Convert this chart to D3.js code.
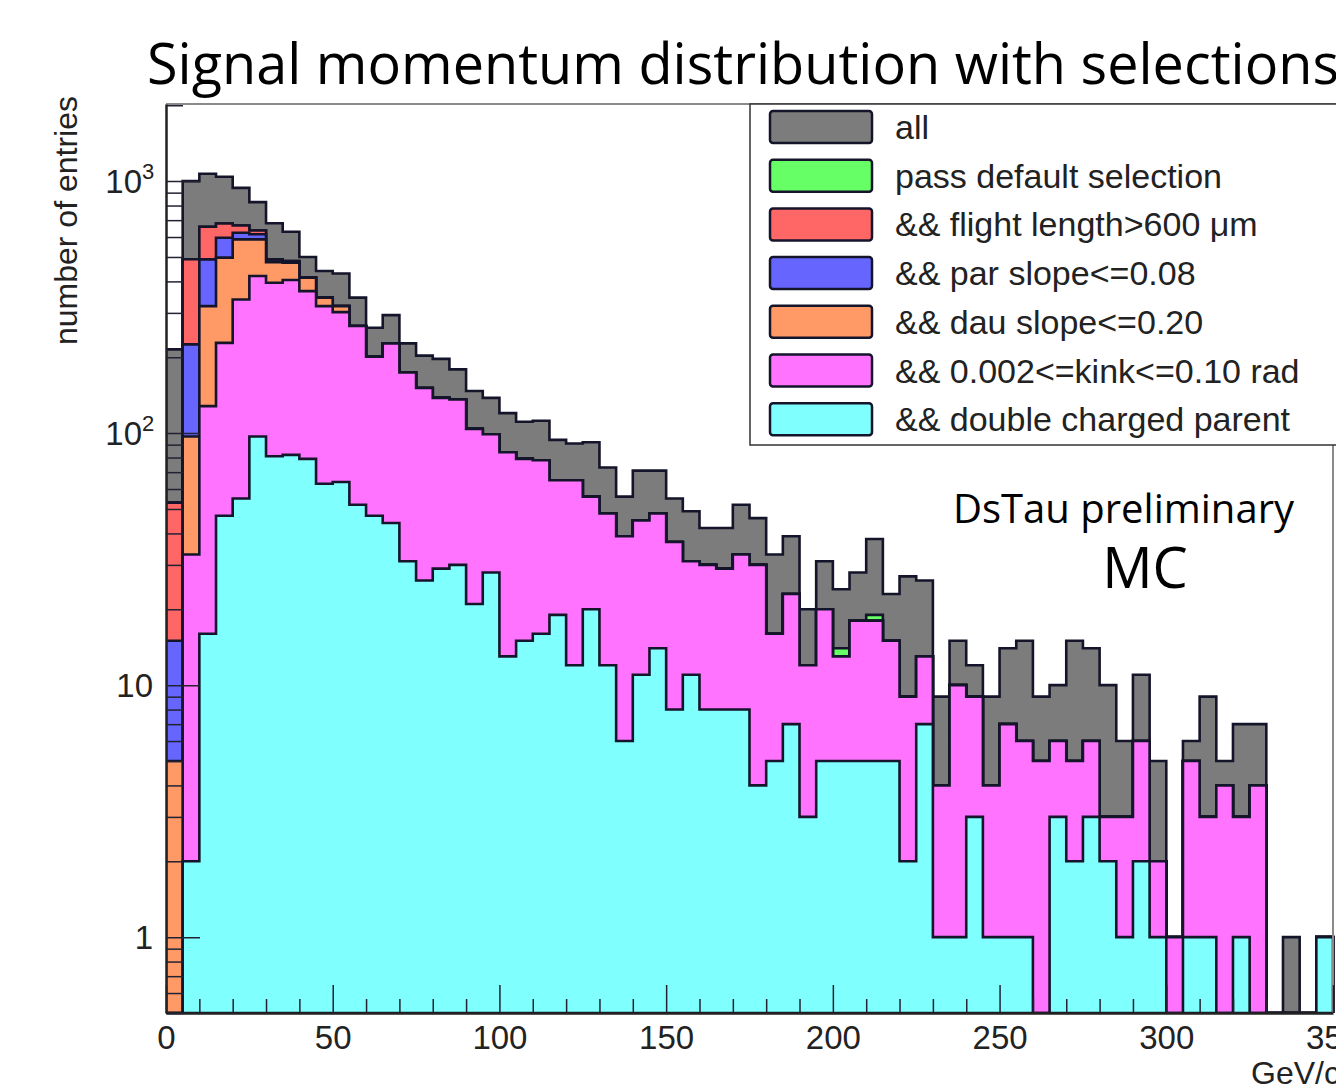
<!DOCTYPE html>
<html>
<head>
<meta charset="utf-8">
<script src="https://cdn.jsdelivr.net/npm/d3@7"></script>
<style>
  body { margin: 0; background: #fff; }
  svg { display: block; }
</style>
</head>
<body>
<div id="canvas"></div>
<script>
"use strict"

let drawingWidth = 1336;
let drawingHeight = 1088;

/* bins of 5 GeV/c from 0 to 350 */
let binWidth = 5;
let xMax = 350;

/* entries per bin */
let allEntries = [215,1000,1070,1040,940,825,680,630,500,440,
    430,345,262,294,227,203,197,179,147,138,
    120,111,112,94,91,92,73,56,71,71,
    55,49,42,42,52,46,33,39,20,31,
    24,28,38,23,27,26,9,15,12,9,
    14,15,9,10,15,14,10,6,11,5,
    1,6,9,5,7,7,0,1,0,1];

let passDefault = [53,490,659,679,667,637,489,482,414,345,
    319,266,201,227,174,151,138,136,104,99,
    84,79,78,65,65,56,48,39,45,48,
    37,31,30,29,33,30,16,23,12,20,
    14,18,19,15,9,13,4,10,9,4,
    7,6,5,6,5,6,3,3,6,2,
    1,5,3,4,3,4,0,0,0,1];

let flightLength = [53,490,659,679,667,637,489,482,414,345,
    319,266,201,227,174,151,138,136,104,99,
    84,79,78,65,65,56,48,39,45,48,
    37,31,30,29,33,30,16,23,12,20,
    13,18,18,15,9,13,4,10,9,4,
    7,6,5,6,5,6,3,3,6,2,
    1,5,3,4,3,4,0,0,0,1];

let parSlope = [15,225,489,596,624,615,480,478,414,345,
    319,266,201,227,174,151,138,136,104,99,
    84,79,78,65,65,56,48,39,45,48,
    37,31,30,29,33,30,16,23,12,20,
    13,18,18,15,9,13,4,10,9,4,
    7,6,5,6,5,6,3,3,6,2,
    1,5,3,4,3,4,0,0,0,1];

let dauSlope = [5,97,319,497,587,587,477,475,414,345,
    319,266,201,227,174,151,138,136,104,99,
    84,79,78,65,65,56,48,39,45,48,
    37,31,30,29,33,30,16,23,12,20,
    13,18,18,15,9,13,4,10,9,4,
    7,6,5,6,5,6,3,3,6,2,
    1,5,3,4,3,4,0,0,0,1];

let kinkCut = [0,33,128,228,339,420,395,405,366,319,
    302,266,201,227,174,151,138,136,104,99,
    84,79,78,65,65,56,48,39,45,48,
    37,31,30,29,33,30,16,23,12,20,
    13,18,18,15,9,13,4,10,9,4,
    7,6,5,6,5,6,3,3,6,2,
    1,5,3,4,3,4,0,0,0,1];

let doubleCharged = [0,2,16,47,55,97,81,82,79,63,
    64,52,47,44,31,26,29,30,21,28,
    13,15,16,19,12,20,12,6,11,14,
    8,11,8,8,8,4,5,7,3,5,
    5,5,5,5,2,7,1,1,3,1,
    1,1,0,3,2,3,2,1,2,1,
    0,1,1,0,1,0,0,0,0,1];

let seriesLabels = ["all", "pass default selection", "&& flight length>600 \u03bcm",
    "&& par slope<=0.08", "&& dau slope<=0.20", "&& 0.002<=kink<=0.10 rad",
    "&& double charged parent"];
let seriesColors = ["#7c7c7c", "#66ff66", "#ff6666", "#6666ff", "#ff9966", "#ff73ff", "#80ffff"];
let seriesValues = [allEntries, passDefault, flightLength, parSlope, dauSlope, kinkCut, doubleCharged];

let xMajorTicks = [0, 50, 100, 150, 200, 250, 300, 350];
let yMajorTicks = [1, 10, 100, 1000];
let yTickLabels = [["1", ""], ["10", ""], ["10", "2"], ["10", "3"]];

/* frame of the plot */
let plotLeft = 166;
let plotRight = 1333;
let plotTop = 104;
let plotBottom = 1013;
let yMin = 0.5;
let yMax = 2023;

let drawing = d3.select("#canvas")
    .append("svg")
    .attr("width", drawingWidth)
    .attr("height", drawingHeight)
    .style("font-family", "'Liberation Sans', Arial, sans-serif");

let x = d3.scaleLinear().domain([0, xMax]).range([plotLeft, plotRight]);
let y = d3.scaleLog().domain([yMin, yMax]).range([plotBottom, plotTop]);

drawing.append("defs").append("clipPath")
    .attr("id", "plotClip")
    .append("rect")
    .attr("x", plotLeft)
    .attr("y", plotTop)
    .attr("width", plotRight - plotLeft + 2)
    .attr("height", plotBottom - plotTop);

/* step outline of one histogram, zero bins drop to the bottom */
let histArea = d3.area()
    .curve(d3.curveStepAfter)
    .x(d => x(d.x))
    .y0(plotBottom)
    .y1(d => d.v > 0 ? y(d.v) : plotBottom);

function binPoints(values) {
    let pts = values.map((v, i) => ({ x: i * binWidth, v: v }));
    pts.push({ x: values.length * binWidth, v: values[values.length - 1] });
    return pts;
}

let histGroup = drawing.append("g").attr("clip-path", "url(#plotClip)");

seriesValues.forEach((values, i) => {
    histGroup.append("path")
        .datum(binPoints(values))
        .attr("d", histArea)
        .attr("fill", seriesColors[i])
        .attr("stroke", "#14142a")
        .attr("stroke-width", 2.6)
        .attr("stroke-linejoin", "miter");
});

/* frame: gray top and right lines */
drawing.append("line")
    .attr("x1", plotLeft).attr("x2", drawingWidth)
    .attr("y1", plotTop).attr("y2", plotTop)
    .attr("stroke", "#8a8a8a").attr("stroke-width", 2);
drawing.append("line")
    .attr("x1", plotRight).attr("x2", plotRight)
    .attr("y1", plotTop).attr("y2", plotBottom)
    .attr("stroke", "#8a8a8a").attr("stroke-width", 2);

/* x axis, ticks pointing into the plot */
let xMinorTicks = d3.range(0, xMax + 1, 10).filter(v => v % 50 !== 0);

drawing.append("g")
    .attr("transform", `translate(0,${plotBottom})`)
    .call(d3.axisBottom(x).tickValues(xMinorTicks).tickSize(-14).tickSizeOuter(0).tickFormat(""))
    .call(g => g.select(".domain").remove())
    .call(g => g.selectAll(".tick line").attr("stroke", "#223").attr("stroke-width", 1.5));

let xAxis = drawing.append("g")
    .attr("transform", `translate(0,${plotBottom})`)
    .call(d3.axisBottom(x).tickValues(xMajorTicks).tickSize(-28).tickSizeOuter(0).tickPadding(13));

xAxis.select(".domain").attr("stroke", "#222").attr("stroke-width", 2.5);
xAxis.selectAll(".tick line").attr("stroke", "#223").attr("stroke-width", 1.5);
xAxis.selectAll(".tick text")
    .attr("fill", "#222")
    .style("font-size", "33px")
    .style("font-family", "'Liberation Sans', Arial, sans-serif");

/* y axis, log scale */
let yMinorTicks = y.ticks().filter(v => !yMajorTicks.includes(v));

drawing.append("g")
    .attr("transform", `translate(${plotLeft},0)`)
    .call(d3.axisLeft(y).tickValues(yMinorTicks).tickSize(-17).tickSizeOuter(0).tickFormat(""))
    .call(g => g.select(".domain").remove())
    .call(g => g.selectAll(".tick line").attr("stroke", "#223").attr("stroke-width", 1.5));

let yAxis = drawing.append("g")
    .attr("transform", `translate(${plotLeft},0)`)
    .call(d3.axisLeft(y).tickValues(yMajorTicks).tickSize(-34).tickSizeOuter(0).tickFormat(""));

yAxis.select(".domain").attr("stroke", "#222").attr("stroke-width", 2.5);
yAxis.selectAll(".tick line").attr("stroke", "#223").attr("stroke-width", 1.5);

yMajorTicks.forEach((v, i) => {
    let base = yTickLabels[i][0];
    let sup = yTickLabels[i][1];
    drawing.append("text")
        .attr("x", sup ? 142 : 153)
        .attr("y", y(v) + 12)
        .attr("text-anchor", "end")
        .attr("fill", "#222")
        .style("font-size", "33px")
        .text(base);
    if (sup) {
        drawing.append("text")
            .attr("x", 142)
            .attr("y", y(v) - 2)
            .attr("fill", "#222")
            .style("font-size", "22px")
            .text(sup);
    }
});

/* axis titles */
drawing.append("text")
    .attr("transform", `translate(77,${plotTop - 8}) rotate(-90)`)
    .attr("text-anchor", "end")
    .attr("fill", "#222")
    .style("font-size", "32px")
    .text("number of entries");

drawing.append("text")
    .attr("x", 1340)
    .attr("y", 1084)
    .attr("text-anchor", "end")
    .attr("fill", "#222")
    .style("font-size", "32px")
    .text("GeV/c");

/* legend */
let legendLeft = 750;
let legendBottom = 445;

drawing.append("rect")
    .attr("x", legendLeft)
    .attr("y", plotTop)
    .attr("width", drawingWidth - legendLeft + 10)
    .attr("height", legendBottom - plotTop)
    .attr("fill", "#fff")
    .attr("stroke", "#333")
    .attr("stroke-width", 1.5);

let rowStep = 48.7;
let firstRowY = 127;

seriesLabels.forEach((label, i) => {
    let cy = firstRowY + i * rowStep;
    drawing.append("rect")
        .attr("x", 770)
        .attr("y", cy - 16)
        .attr("width", 102)
        .attr("height", 32)
        .attr("rx", 3)
        .attr("fill", seriesColors[i])
        .attr("stroke", "#14142a")
        .attr("stroke-width", 2.5);
    drawing.append("text")
        .attr("x", 895)
        .attr("y", cy + 12)
        .attr("fill", "#222")
        .style("font-size", "34px")
        .text(label);
});

/* title and annotations */
drawing.append("text")
    .attr("x", 147)
    .attr("y", 84)
    .attr("textLength", 1192)
    .attr("lengthAdjust", "spacingAndGlyphs")
    .style("font-family", "'Open Sans', 'Noto Sans', sans-serif")
    .style("font-size", "56px")
    .attr("fill", "#000")
    .text("Signal momentum distribution with selections");

drawing.append("text")
    .attr("x", 953)
    .attr("y", 523)
    .style("font-family", "'Open Sans', 'Noto Sans', sans-serif")
    .style("font-size", "40px")
    .attr("fill", "#000")
    .text("DsTau preliminary");

drawing.append("text")
    .attr("x", 1145)
    .attr("y", 588)
    .attr("text-anchor", "middle")
    .style("font-family", "'Open Sans', 'Noto Sans', sans-serif")
    .style("font-size", "56px")
    .attr("fill", "#000")
    .text("MC");
</script>
</body>
</html>
